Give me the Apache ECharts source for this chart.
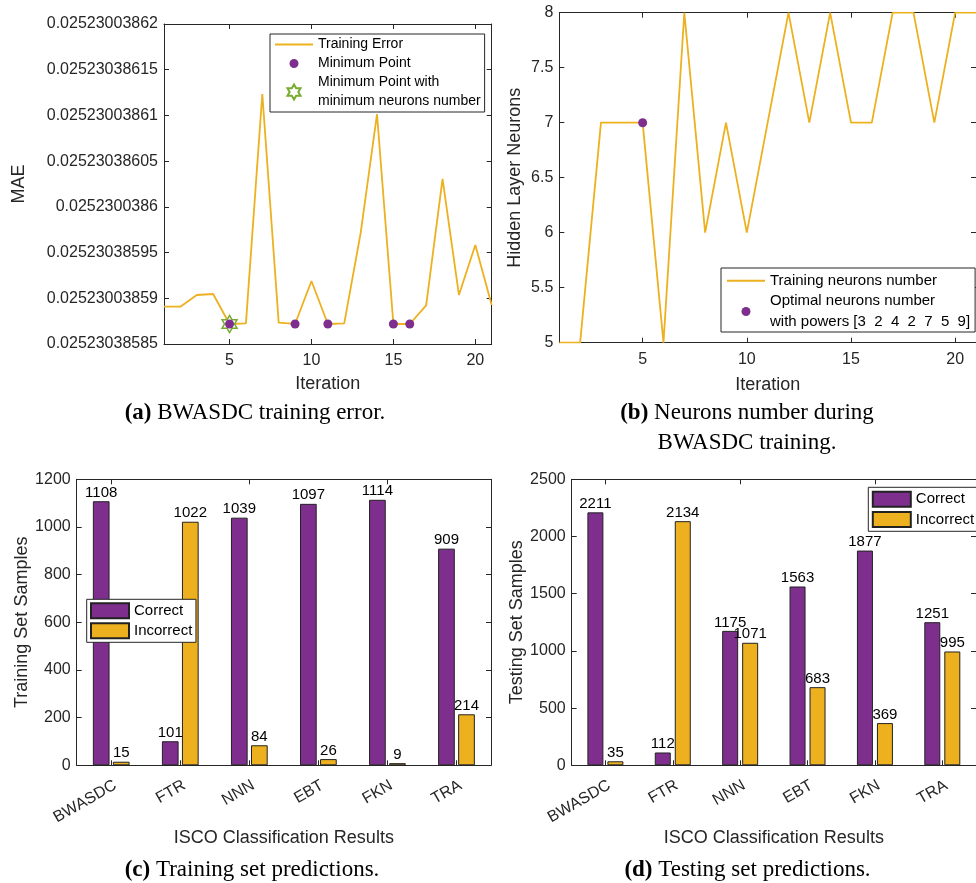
<!DOCTYPE html>
<html><head><meta charset="utf-8">
<script src="https://cdn.jsdelivr.net/npm/echarts@6/dist/echarts.min.js"></script>
<style>html,body{margin:0;padding:0;background:#fff}#c{width:976px;height:883px}</style>
</head><body><div id="c"></div>
<script>
// ---------- data ----------
const iterations = [1,2,3,4,5,6,7,8,9,10,11,12,13,14,15,16,17,18,19,20,21];
const trainingErrorMAE = [
  0.02523003858908, 0.02523003858908, 0.02523003859036, 0.02523003859047, 0.02523003858719,
  0.02523003858726, 0.02523003861235, 0.02523003858733, 0.02523003858719, 0.02523003859189,
  0.02523003858719, 0.02523003858726, 0.02523003859711, 0.02523003861013, 0.02523003858719,
  0.02523003858719, 0.02523003858923, 0.02523003860305, 0.02523003859036, 0.02523003859583,
  0.02523003858927];
const minimumPointIters = [5, 9, 11, 15, 16];
const minNeuronsPointIters = [5];
const maeTickLabels = ['0.02523038585','0.02523003859','0.02523038595','0.0252300386',
  '0.02523038605','0.02523003861','0.02523038615','0.02523003862'];
const iterationTicks = [5, 10, 15, 20];

const neuronsNumber = [5,5,7,7,7,5,8,6,7,6,7,8,7,8,7,7,8,8,7,8,8];
const optimalIter = [5];

const methods = ['BWASDC','FTR','NNN','EBT','FKN','TRA'];
const trainCorrect = [1108, 101, 1039, 1097, 1114, 909];
const trainIncorrect = [15, 1022, 84, 26, 9, 214];
const testCorrect = [2211, 112, 1175, 1563, 1877, 1251];
const testIncorrect = [35, 2134, 1071, 683, 369, 995];

// ---------- helpers ----------
const MAE_BASE = 0.0252300385;           // axis unit: 1e-12 above this base
const toMaeAxis = v => Math.round((v - MAE_BASE) * 1e14) / 100;
const FONT = '"Liberation Sans", Arial, Helvetica, sans-serif';
const SERIF = '"Liberation Serif", "Times New Roman", serif';
const AX = '#262626';
const PURPLE = '#7E2F8E', YELLOW = '#EDB120', GREEN = '#77AC30';
const HEXAGRAM = 'path://M10,0L12.887,5L18.66,5L15.774,10L18.66,15L12.887,15L10,20L7.113,15L1.34,15L4.226,10L1.34,5L7.113,5Z';
const SMALL_DOT = 'path://M0,0M15,15M7.5,3A4.5,4.5,0,1,1,7.49,3Z';

function axis(o) {
  const a = {
    gridIndex: o.grid, type: o.type || 'value', position: o.pos,
    min: o.min, max: o.max, interval: o.interval, data: o.data,
    axisLine: {show: true, onZero: false, lineStyle: {color: AX, width: 1}},
    axisTick: {show: true, inside: true, length: 5, alignWithLabel: true, lineStyle: {color: AX, width: 1}},
    axisLabel: Object.assign({show: !o.mirror, color: AX, fontSize: 16, fontFamily: FONT, margin: o.margin || 6},
      (o.type || 'value') === 'value' ? {formatter: v => String(v)} : {}, o.label || {}),
    splitLine: {show: false},
    name: o.mirror ? '' : (o.name || ''),
    nameLocation: 'middle', nameGap: o.nameGap,
    nameTextStyle: {color: AX, fontSize: 18, fontFamily: FONT}
  };
  if (o.custom) { a.axisTick.customValues = o.custom; a.axisLabel.customValues = o.custom; }
  return a;
}

const mkPts = (xs, f) => xs.map(x => [x, f(x)]);
const maeAt = x => toMaeAxis(trainingErrorMAE[iterations.indexOf(x)]);
const neuAt = x => neuronsNumber[iterations.indexOf(x)];

const barLabel = {show: true, position: 'top', distance: 1, fontSize: 15, color: '#000', fontFamily: FONT};
const legendText = (fs, lh) => ({fontSize: fs, lineHeight: lh, color: '#000', fontFamily: FONT});
const caption = (text, left, top) => ({
  text, left, top, textAlign: 'center', padding: 0,
  textStyle: {fontFamily: SERIF, fontSize: 23, fontWeight: 'normal', color: '#000', lineHeight: 30, align: 'center',
              rich: {b: {fontFamily: SERIF, fontSize: 23, fontWeight: 'bold', color: '#000', lineHeight: 30}}}
});

const option = {
  animation: false,
  backgroundColor: '#fff',
  grid: [
    {left: 164, top: 24, width: 327.7, height: 320},
    {left: 559.3, top: 12.7, width: 426.7, height: 330},
    {left: 76.7, top: 479.3, width: 414.3, height: 286},
    {left: 571.7, top: 479.3, width: 420, height: 286}
  ],
  xAxis: [
    axis({grid: 0, pos: 'bottom', min: 1, max: 21, custom: iterationTicks, name: 'Iteration', nameGap: 31, margin: 9}),
    axis({grid: 0, pos: 'top', min: 1, max: 21, custom: iterationTicks, mirror: true}),
    axis({grid: 1, pos: 'bottom', min: 1, max: 21, custom: iterationTicks, name: 'Iteration', nameGap: 33, margin: 9}),
    axis({grid: 1, pos: 'top', min: 1, max: 21, custom: iterationTicks, mirror: true}),
    axis({grid: 2, pos: 'bottom', type: 'category', data: methods, name: 'ISCO Classification Results', nameGap: 64,
          margin: 12, label: {rotate: 30, align: 'right', verticalAlign: 'top', interval: 0}}),
    axis({grid: 2, pos: 'top', type: 'category', data: methods, mirror: true}),
    axis({grid: 3, pos: 'bottom', type: 'category', data: methods, name: 'ISCO Classification Results', nameGap: 64,
          margin: 12, label: {rotate: 30, align: 'right', verticalAlign: 'top', interval: 0}}),
    axis({grid: 3, pos: 'top', type: 'category', data: methods, mirror: true})
  ],
  yAxis: [
    axis({grid: 0, pos: 'left', min: 85, max: 120, interval: 5, name: 'MAE', nameGap: 136,
          label: {formatter: v => maeTickLabels[Math.round((v - 85) / 5)]}}),
    axis({grid: 0, pos: 'right', min: 85, max: 120, interval: 5, mirror: true}),
    axis({grid: 1, pos: 'left', min: 5, max: 8, interval: 0.5, name: 'Hidden Layer Neurons', nameGap: 35}),
    axis({grid: 1, pos: 'right', min: 5, max: 8, interval: 0.5, mirror: true}),
    axis({grid: 2, pos: 'left', min: 0, max: 1200, interval: 200, name: 'Training Set Samples', nameGap: 44}),
    axis({grid: 2, pos: 'right', min: 0, max: 1200, interval: 200, mirror: true}),
    axis({grid: 3, pos: 'left', min: 0, max: 2500, interval: 500, name: 'Testing Set Samples', nameGap: 44}),
    axis({grid: 3, pos: 'right', min: 0, max: 2500, interval: 500, mirror: true})
  ],
  legend: [
    {left: 270, top: 34, orient: 'vertical', padding: [1, 4, 1, 4], itemGap: 0, itemWidth: 38, itemHeight: 15,
     borderColor: AX, borderWidth: 1, backgroundColor: '#fff', textStyle: legendText(14, 19),
     data: [
       {name: 'Training Error', itemStyle: {opacity: 0}},
       {name: 'Minimum Point', icon: SMALL_DOT},
       {name: 'Minimum Point with\nminimum neurons number', icon: HEXAGRAM}
     ]},
    {left: 721, top: 268, orient: 'vertical', padding: [2.5, 5, 0, 5], itemGap: 0, itemWidth: 38, itemHeight: 9,
     borderColor: AX, borderWidth: 1, backgroundColor: '#fff', textStyle: legendText(15, 20.5),
     data: [
       {name: 'Training neurons number', itemStyle: {opacity: 0}},
       {name: 'Optimal neurons number\nwith powers [3  2  4  2  7  5  9]', icon: 'circle'}
     ]},
    {left: 86.7, top: 599.3, orient: 'vertical', padding: [1.5, 3.6, 1.5, 3.3], itemGap: 0, itemWidth: 38, itemHeight: 15,
     borderColor: AX, borderWidth: 1, backgroundColor: '#fff', textStyle: legendText(15, 20),
     data: [{name: 'Correct', icon: 'rect'}, {name: 'Incorrect', icon: 'rect'}]},
    {left: 868.3, top: 487.3, orient: 'vertical', padding: [1.7, 4, 1.7, 3.5], itemGap: 0, itemWidth: 38, itemHeight: 15,
     borderColor: AX, borderWidth: 1, backgroundColor: '#fff', textStyle: legendText(15, 20.3),
     data: [{name: 'Correct', icon: 'rect'}, {name: 'Incorrect', icon: 'rect'}]}
  ],
  title: [
    caption('{b|(a)} BWASDC training error.', 255, 398),
    caption('{b|(b)} Neurons number during\nBWASDC training.', 747, 398),
    caption('{b|(c)} Training set predictions.', 252, 855),
    caption('{b|(d)} Testing set predictions.', 747.5, 855)
  ],
  series: [
    {name: 'Training Error', type: 'line', xAxisIndex: 0, yAxisIndex: 0, symbol: 'none',
     lineStyle: {color: YELLOW, width: 1.8}, itemStyle: {color: YELLOW},
     data: mkPts(iterations, maeAt)},
    {name: 'Minimum Point with\nminimum neurons number', type: 'scatter', xAxisIndex: 0, yAxisIndex: 0,
     symbol: HEXAGRAM, symbolSize: [15, 17], z: 3,
     itemStyle: {color: '#fff', borderColor: GREEN, borderWidth: 1.5, opacity: 1},
     data: mkPts(minNeuronsPointIters, maeAt)},
    {name: 'Minimum Point', type: 'scatter', xAxisIndex: 0, yAxisIndex: 0, symbol: 'circle', symbolSize: 9, z: 4,
     itemStyle: {color: PURPLE, opacity: 1},
     data: mkPts(minimumPointIters, maeAt)},

    {name: 'Training neurons number', type: 'line', xAxisIndex: 2, yAxisIndex: 2, symbol: 'none',
     lineStyle: {color: YELLOW, width: 1.8}, itemStyle: {color: YELLOW},
     data: mkPts(iterations, neuAt)},
    {name: 'Optimal neurons number\nwith powers [3  2  4  2  7  5  9]', type: 'scatter', xAxisIndex: 2, yAxisIndex: 2,
     symbol: 'circle', symbolSize: 9, z: 4, itemStyle: {color: PURPLE, opacity: 1},
     data: mkPts(optimalIter, neuAt)},

    {name: 'Correct', type: 'bar', xAxisIndex: 4, yAxisIndex: 4, data: trainCorrect, barWidth: 16.7, barGap: '20%',
     itemStyle: {color: PURPLE, borderColor: '#222', borderWidth: 1}, label: barLabel},
    {name: 'Incorrect', type: 'bar', xAxisIndex: 4, yAxisIndex: 4, data: trainIncorrect, barWidth: 16.7, barGap: '20%',
     itemStyle: {color: YELLOW, borderColor: '#222', borderWidth: 1}, label: barLabel},
    {name: 'Correct', type: 'bar', xAxisIndex: 6, yAxisIndex: 6, data: testCorrect, barWidth: 16, barGap: '25%',
     itemStyle: {color: PURPLE, borderColor: '#222', borderWidth: 1}, label: barLabel},
    {name: 'Incorrect', type: 'bar', xAxisIndex: 6, yAxisIndex: 6, data: testIncorrect, barWidth: 16, barGap: '25%',
     itemStyle: {color: YELLOW, borderColor: '#222', borderWidth: 1}, label: barLabel}
  ]
};

const chart = echarts.init(document.getElementById('c'), null, {renderer: 'canvas'});
chart.setOption(option);
</script>
</body></html>
